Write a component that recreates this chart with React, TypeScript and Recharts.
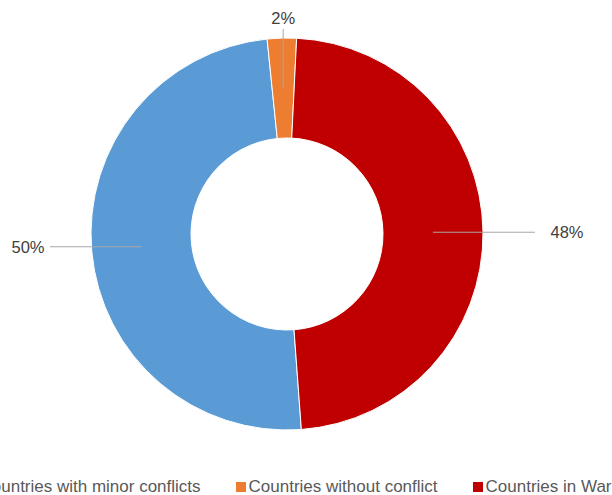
import React from 'react';
import { PieChart, Pie, Cell, Legend } from 'recharts';

const categories = ['Countries with minor conflicts', 'Countries without conflict', 'Countries in War'];
const shares = [49.55, 2.4, 48.05];
const colors = ['#5B9BD5', '#ED7D31', '#C00000'];

const data = categories.map((name, i) => ({ name, value: shares[i] }));

const FONT = '"Liberation Sans", Arial, sans-serif';
const RAD = Math.PI / 180;
// leader-line / label placement per slice (style, relative to pie centre)
const LABEL_LAYOUT = [
  { axis: 'x', lineEnd: -237, text: -259 },
  { axis: 'y', lineEnd: -205, text: -216 },
  { axis: 'x', lineEnd: 248, text: 280 },
];

const renderLabel = (props: any) => {
  const { cx, cy, midAngle, innerRadius, outerRadius, percent, index } = props;
  const r = (innerRadius + outerRadius) / 2;
  const ax = cx + r * Math.cos(-midAngle * RAD);
  const ay = cy + r * Math.sin(-midAngle * RAD);
  const L = LABEL_LAYOUT[index];
  let ex, ey, tx, ty;
  if (L.axis === 'x') {
    ex = cx + L.lineEnd; ey = ay; tx = cx + L.text; ty = ay;
  } else {
    ex = ax; ey = cy + L.lineEnd; tx = ax; ty = cy + L.text;
  }
  return (
    <g>
      <line x1={ax} y1={ay} x2={ex} y2={ey} stroke="#A6A6A6" strokeWidth={1} />
      <text x={tx} y={ty} textAnchor="middle" dominantBaseline="central" fill="#404040" fontSize={16.5} fontFamily={FONT}>
        {`${Math.round(percent * 100)}%`}
      </text>
    </g>
  );
};

const renderLegend = () => (
  <div style={{ display: 'flex', justifyContent: 'center', alignItems: 'center', whiteSpace: 'nowrap', fontFamily: FONT, fontSize: 17, color: '#595959' }}>
    {categories.map((c, i) => (
      <div key={c} style={{ display: 'flex', alignItems: 'center', marginRight: i < categories.length - 1 ? 35 : 0 }}>
        <span style={{ display: 'inline-block', width: 10, height: 10, background: colors[i], marginRight: 3 }} />
        <span>{c}</span>
      </div>
    ))}
  </div>
);

export default function App() {
  return (
    <div style={{ position: 'absolute', left: 0, top: 0, width: 612, height: 495, overflow: 'hidden', background: '#fff' }}>
      <PieChart width={612} height={495} margin={{ top: 0, right: 0, bottom: 0, left: 0 }}>
        <Pie
          data={data}
          dataKey="value"
          nameKey="name"
          cx={287}
          cy={234}
          innerRadius={96}
          outerRadius={196}
          startAngle={-85.8}
          endAngle={-445.8}
          stroke="#FFFFFF"
          strokeWidth={1}
          label={renderLabel}
          labelLine={false}
          isAnimationActive={false}
        >
          {data.map((d, i) => (
            <Cell key={d.name} fill={colors[i]} />
          ))}
        </Pie>
        <Legend
          content={renderLegend}
          wrapperStyle={{ position: 'absolute', left: -57, width: 692, top: 477, bottom: 'auto', height: 20 }}
        />
      </PieChart>
    </div>
  );
}
